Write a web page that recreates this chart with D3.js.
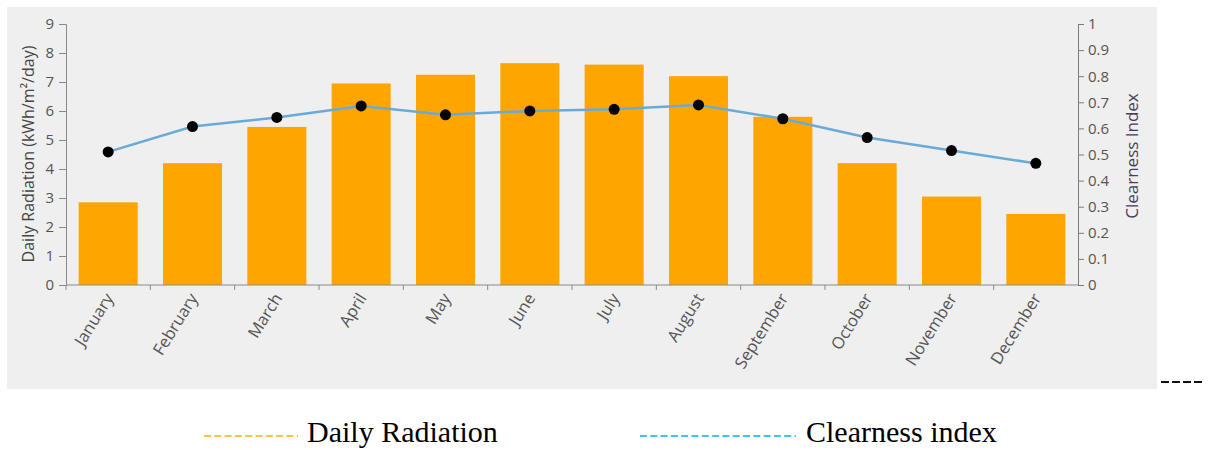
<!DOCTYPE html>
<html lang="en">
<head>
    <meta charset="UTF-8">
    <title>Daily Radiation and Clearness Index</title>
    <script src="https://d3js.org/d3.v7.min.js"></script>
    <style>
        body { margin: 0; background: #fff; }
        svg { display: block; }
        .tick text { font-family: "Open Sans", sans-serif; font-size: 15px; fill: #555; }
    </style>
</head>
<body>
    <div id="chart"></div>
    <script>
        // chart values
        const months = ["January", "February", "March", "April", "May", "June",
                        "July", "August", "September", "October", "November", "December"];
        const radiation = [2.85, 4.2, 5.45, 6.95, 7.25, 7.65, 7.6, 7.2, 5.8, 4.2, 3.05, 2.45];
        const clearness = [0.51, 0.607, 0.642, 0.686, 0.652, 0.667, 0.673, 0.69, 0.637, 0.565, 0.515, 0.466];
        const leftTicks = [0, 1, 2, 3, 4, 5, 6, 7, 8, 9];
        const rightTicks = [0, 0.1, 0.2, 0.3, 0.4, 0.5, 0.6, 0.7, 0.8, 0.9, 1];

        const W = 1208, H = 450;
        const plotL = 66, plotR = 1078, plotT = 24, plotB = 285;

        const svg = d3.select("#chart").append("svg")
            .attr("width", W)
            .attr("height", H);

        // panel background
        svg.append("rect")
            .attr("x", 7).attr("y", 7)
            .attr("width", 1150).attr("height", 382)
            .attr("fill", "#efefef");

        const x = d3.scaleBand()
            .domain(months)
            .range([plotL, plotR])
            .paddingInner(0.3)
            .paddingOuter(0.15);

        const yL = d3.scaleLinear().domain([0, 9]).range([plotB, plotT]);
        const yR = d3.scaleLinear().domain([0, 1]).range([plotB, plotT]);

        // bars
        svg.append("g").selectAll("rect")
            .data(radiation)
            .join("rect")
            .attr("x", (d, i) => x(months[i]))
            .attr("y", d => yL(d))
            .attr("width", x.bandwidth())
            .attr("height", d => plotB - yL(d))
            .attr("fill", "#ffa500");

        // left axis
        const gl = svg.append("g")
            .attr("transform", `translate(${plotL},0)`)
            .call(d3.axisLeft(yL).tickValues(leftTicks).tickSize(7).tickPadding(5));
        gl.select(".domain").attr("stroke", "#8a8a8a");
        gl.selectAll(".tick line").attr("stroke", "#8a8a8a");

        // right axis
        const gr = svg.append("g")
            .attr("transform", `translate(${plotR},0)`)
            .call(d3.axisRight(yR).tickValues(rightTicks).tickFormat(d3.format("~g")).tickSize(6).tickPadding(4));
        gr.select(".domain").attr("stroke", "#71807f");
        gr.selectAll(".tick line").attr("stroke", "#71807f");

        // bottom axis: ticks on band boundaries, labels at band centres
        const step = x.step();
        const gb = svg.append("g");
        gb.append("line")
            .attr("x1", plotL).attr("x2", plotR)
            .attr("y1", plotB).attr("y2", plotB)
            .attr("stroke", "#8a8a8a");
        gb.selectAll("line.bt")
            .data(months.slice(0, 11))
            .join("line")
            .attr("class", "bt")
            .attr("x1", (d, i) => plotL + (i + 1) * step)
            .attr("x2", (d, i) => plotL + (i + 1) * step)
            .attr("y1", plotB).attr("y2", plotB + 5)
            .attr("stroke", "#8a8a8a");
        gb.append("line")
            .attr("x1", plotL).attr("x2", plotL)
            .attr("y1", plotB).attr("y2", plotB + 5)
            .attr("stroke", "#8a8a8a");
        gb.selectAll("text")
            .data(months)
            .join("text")
            .attr("transform", d => `translate(${x(d) + x.bandwidth() / 2 + 6},${plotB + 13}) rotate(-58)`)
            .attr("text-anchor", "end")
            .attr("font-family", "Open Sans, sans-serif")
            .attr("font-size", 16.5)
            .attr("fill", "#555")
            .text(d => d);

        // clearness line
        const line = d3.line()
            .x((d, i) => x(months[i]) + x.bandwidth() / 2)
            .y(d => yR(d));
        svg.append("path")
            .datum(clearness)
            .attr("d", line)
            .attr("fill", "none")
            .attr("stroke", "#6aaad8")
            .attr("stroke-width", 2.5);
        svg.append("g").selectAll("circle")
            .data(clearness)
            .join("circle")
            .attr("cx", (d, i) => x(months[i]) + x.bandwidth() / 2)
            .attr("cy", d => yR(d))
            .attr("r", 5.5)
            .attr("fill", "#000");

        // axis titles
        svg.append("text")
            .attr("transform", `translate(34,154) rotate(-90)`)
            .attr("text-anchor", "middle")
            .attr("font-family", "Open Sans, sans-serif")
            .attr("font-size", 16)
            .attr("fill", "#444")
            .text("Daily Radiation (kWh/m\u00b2/day)");
        svg.append("text")
            .attr("transform", `translate(1138,156) rotate(-90)`)
            .attr("text-anchor", "middle")
            .attr("font-family", "Open Sans, sans-serif")
            .attr("font-size", 17)
            .attr("fill", "#4b3b5e")
            .text("Clearness Index");

        // stray dashes at right
        svg.append("line")
            .attr("x1", 1161).attr("x2", 1203)
            .attr("y1", 382).attr("y2", 382)
            .attr("stroke", "#111")
            .attr("stroke-width", 2)
            .attr("stroke-dasharray", "8,3");

        // legend
        const legend = [
            { name: "Daily Radiation", color: "#ffb000", x1: 204, x2: 298, tx: 307 },
            { name: "Clearness index", color: "#00b0f0", x1: 640, x2: 796, tx: 806 }
        ];
        legend.forEach(l => {
            svg.append("line")
                .attr("x1", l.x1).attr("x2", l.x2)
                .attr("y1", 436).attr("y2", 436)
                .attr("stroke", l.color)
                .attr("stroke-width", 1.5)
                .attr("stroke-dasharray", "7,3.3");
            svg.append("text")
                .attr("x", l.tx).attr("y", 442)
                .attr("font-family", "Liberation Serif, Times New Roman, serif")
                .attr("font-size", 30)
                .attr("fill", "#000")
                .text(l.name);
        });
    </script>
</body>
</html>
